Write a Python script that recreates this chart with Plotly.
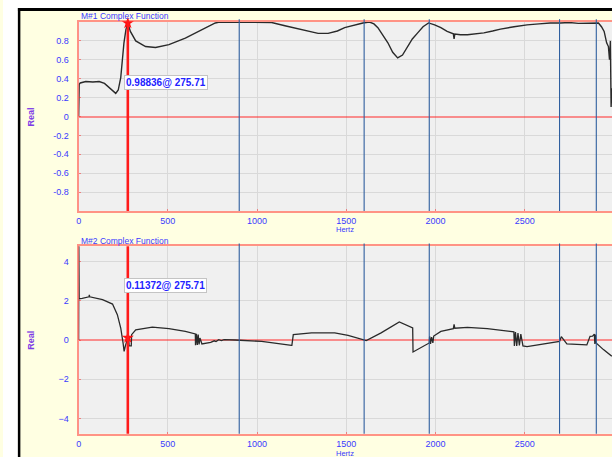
import plotly.graph_objects as go

# ---- M#1 complex function, real part ----
m1_hz = [0, 3, 9, 40, 80, 115, 145, 171, 195, 208, 222, 236, 254, 265, 275.71,
         290, 320, 375, 431, 506, 598, 692, 740, 766, 790, 815, 860, 900, 950,
         1005, 1050, 1082, 1156, 1230, 1305, 1342, 1398, 1450, 1491, 1550, 1593,
         1630, 1655, 1677, 1705, 1733, 1760, 1788, 1815, 1844, 1870, 1900, 1930,
         1961, 1995, 2030, 2065, 2100, 2104, 2108, 2140, 2179, 2220, 2271, 2320,
         2364, 2440, 2513, 2580, 2643, 2700, 2750, 2800, 2850, 2913, 2930, 2945,
         2959, 2969, 2975, 2980, 2984, 2988]
m1_real = [0.0, 0.34, 0.355, 0.37, 0.365, 0.37, 0.35, 0.31, 0.27, 0.245, 0.28,
           0.41, 0.78, 0.92, 0.98836, 0.90, 0.80, 0.74, 0.73, 0.76, 0.83, 0.92,
           0.97, 0.99, 1.0, 1.0, 0.995, 0.993, 0.995, 1.0, 1.0, 0.995, 0.96, 0.93,
           0.90, 0.88, 0.88, 0.905, 0.94, 0.97, 0.99, 1.0, 0.98, 0.94, 0.86, 0.78,
           0.68, 0.62, 0.65, 0.74, 0.82, 0.885, 0.95, 0.99, 0.97, 0.94, 0.90,
           0.875, 0.82, 0.872, 0.865, 0.865, 0.872, 0.885, 0.905, 0.925, 0.95,
           0.97, 0.98, 0.99, 0.99, 0.995, 0.985, 0.99, 0.99, 0.95, 0.90, 0.78,
           0.74, 0.60, 0.80, 0.10, 0.30]

# ---- M#2 complex function, real part ----
m2_hz = [0, 1, 3, 20, 58, 60, 62, 134, 190, 217, 236, 249, 255, 262, 275.71,
         280, 283, 295, 297, 320, 413, 506, 598, 654, 655, 660, 665, 670, 675,
         680, 691, 740, 760, 770, 785, 800, 815, 877, 1026, 1193, 1195, 1203,
         1249, 1305, 1435, 1510, 1612, 1695, 1797, 1872, 1874, 1965, 1967, 1972,
         1978, 1985, 1990, 2030, 2100, 2104, 2108, 2179, 2290, 2439, 2442, 2448,
         2455, 2462, 2470, 2478, 2490, 2513, 2695, 2705, 2736, 2848, 2866, 2880,
         2890, 2893, 2896, 2900, 2941, 2988]
m2_real = [0.0, 4.9, 2.1, 2.12, 2.2, 2.3, 2.2, 2.05, 1.83, 1.29, 0.61, -0.15,
           -0.58, -0.3, 0.11372, 0.1, -0.3, -0.3, 0.27, 0.52, 0.66, 0.58, 0.44,
           0.31, -0.27, 0.31, -0.25, 0.28, -0.22, 0.1, -0.2, -0.12, -0.04, -0.08,
           0.02, -0.03, 0.02, 0.0, -0.07, -0.27, -0.27, 0.27, 0.31, 0.36, 0.36,
           0.24, -0.03, 0.36, 0.92, 0.61, -0.61, -0.15, 0.19, -0.2, 0.15, -0.15,
           0.2, 0.44, 0.58, 0.8, 0.6, 0.64, 0.58, 0.41, -0.3, 0.4, -0.3, 0.35,
           -0.28, 0.3, -0.3, -0.34, -0.07, 0.17, -0.2, -0.25, 0.19, 0.2, 0.3,
           -0.2, 0.28, -0.15, -0.49, -0.83]

# cursors
cursor_hz = 275.71
cursor_m1 = 0.98836
cursor_m2 = 0.11372
marker_hz = [900, 1600, 1965, 2695, 2901]

x_ticks = [0, 500, 1000, 1500, 2000, 2500]
y1_ticks = [-0.8, -0.6, -0.4, -0.2, 0, 0.2, 0.4, 0.6, 0.8]
y2_ticks = [-4, -2, 0, 2, 4]

W, H = 612, 457
X_END = 2989
FRAME = "rgba(255,40,40,0.5)"
LABEL = "#3a3aff"
TXT_FONT = "Liberation Sans, Arial, sans-serif"


def py(px):
    return 1 - px / H


fig = go.Figure()

fig.add_trace(go.Scatter(x=m1_hz, y=m1_real, mode="lines",
                         line=dict(color="#2a2a2a", width=1.4),
                         xaxis="x", yaxis="y", showlegend=False))
fig.add_trace(go.Scatter(x=m2_hz, y=m2_real, mode="lines",
                         line=dict(color="#2a2a2a", width=1.3),
                         xaxis="x2", yaxis="y2", showlegend=False))
fig.add_trace(go.Scatter(x=[cursor_hz], y=[cursor_m1], mode="markers",
                         marker=dict(symbol="star", size=9, color="#ff1010"),
                         cliponaxis=False, xaxis="x", yaxis="y", showlegend=False))
fig.add_trace(go.Scatter(x=[cursor_hz], y=[cursor_m2], mode="markers",
                         marker=dict(symbol="star", size=9, color="#ff1010"),
                         cliponaxis=False, xaxis="x2", yaxis="y2", showlegend=False))

shapes = [
    # page frame
    dict(type="rect", xref="paper", yref="paper", x0=0, x1=15 / W, y0=0, y1=1,
         fillcolor="white", line=dict(width=0), layer="below"),
    dict(type="rect", xref="paper", yref="paper", x0=0, x1=1, y0=py(8), y1=1,
         fillcolor="white", line=dict(width=0), layer="below"),
    dict(type="line", xref="paper", yref="paper", x0=15 / W, x1=1,
         y0=py(9.5), y1=py(9.5), line=dict(color="black", width=3)),
    dict(type="line", xref="paper", yref="paper", x0=16.2 / W, x1=16.2 / W,
         y0=0, y1=py(8), line=dict(color="black", width=2.5)),
]
for xa, ya in (("x", "y"), ("x2", "y2")):
    for hz in marker_hz:
        shapes.append(dict(type="line", xref=xa, yref=ya + " domain",
                           x0=hz, x1=hz, y0=0, y1=1.015,
                           line=dict(color="#2f5f9f", width=1.1)))
    shapes.append(dict(type="line", xref=xa, yref=ya + " domain",
                       x0=cursor_hz, x1=cursor_hz, y0=0, y1=1,
                       line=dict(color="#ff1a1a", width=2.6)))

axis_common = dict(showgrid=True, gridcolor="#d9d9d9", gridwidth=1,
                   showline=True, linecolor=FRAME, linewidth=2,
                   ticks="inside", ticklen=2, tickcolor=FRAME,
                   tickfont=dict(family=TXT_FONT, size=9, color=LABEL))

x_dom = [76 / W, 1]
y_extra = dict(zeroline=True, zerolinecolor=FRAME, zerolinewidth=2,
               ticklabelstandoff=6)
fig.update_layout(
    width=W, height=H,
    margin=dict(l=0, r=0, t=0, b=0),
    paper_bgcolor="#ffffe2",
    plot_bgcolor="#f0f0f0",
    shapes=shapes,
    xaxis=dict(domain=x_dom, range=[0, X_END], anchor="y", tickvals=x_ticks,
               mirror=True, zeroline=False, **axis_common),
    yaxis=dict(domain=[py(211), py(22)], range=[-1, 1], anchor="x",
               tickvals=y1_ticks, ticktext=[f"{v:g}" for v in y1_ticks],
               **axis_common, **y_extra),
    xaxis2=dict(domain=x_dom, range=[0, X_END], anchor="y2", tickvals=x_ticks,
                mirror=True, zeroline=False, **axis_common),
    yaxis2=dict(domain=[py(433.7), py(246.3)], range=[-4.77, 4.77], anchor="x2",
                tickvals=y2_ticks, **axis_common, **y_extra),
)

annotations = []
for title, top_px in (("M#1 Complex Function", 16), ("M#2 Complex Function", 240.5)):
    annotations.append(dict(text=title, xref="paper", yref="paper", x=76 / W,
                            y=py(top_px), xanchor="left", yanchor="middle",
                            showarrow=False,
                            font=dict(family=TXT_FONT, size=8.5, color=LABEL)))
for cy in (116.7, 340):
    annotations.append(dict(text="<b>Real</b>", xref="paper", yref="paper",
                            x=28 / W, y=py(cy), textangle=-90, showarrow=False,
                            xanchor="center", yanchor="middle",
                            font=dict(family=TXT_FONT, size=9, color="#7d3ce6")))
for cy in (229, 453):
    annotations.append(dict(text="Hertz", xref="paper", yref="paper",
                            x=344 / W, y=py(cy), showarrow=False,
                            xanchor="center", yanchor="middle",
                            font=dict(family=TXT_FONT, size=7.5, color=LABEL)))
for xa, ya, val, ypos in (("x", "y", cursor_m1, 0.36), ("x2", "y2", cursor_m2, 2.8)):
    annotations.append(dict(text=f"<b>{val:.5f}@ {cursor_hz:.2f}</b>",
                            xref=xa, yref=ya, x=cursor_hz, y=ypos,
                            xanchor="left", yanchor="middle", xshift=-4,
                            showarrow=False, bgcolor="white",
                            bordercolor="#c4c4c4", borderwidth=1, borderpad=1,
                            font=dict(family=TXT_FONT, size=10, color="#2222ff")))
fig.update_layout(annotations=annotations)

fig.write_html("out.html")
